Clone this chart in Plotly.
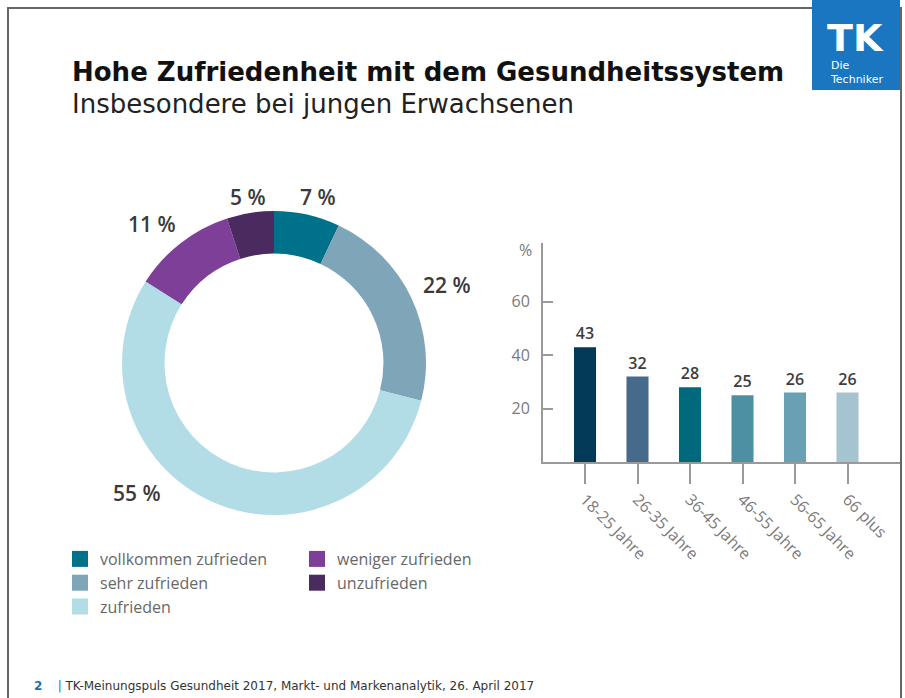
import plotly.graph_objects as go

# donut data (clockwise from 12 o'clock)
pie_labels = ['vollkommen zufrieden', 'sehr zufrieden', 'zufrieden', 'weniger zufrieden', 'unzufrieden']
pie_values = [7, 22, 55, 11, 5]
pie_colors = ['#00718a', '#7fa6b8', '#b3dde6', '#7d3f98', '#4b2b5f']

# bar data
age_groups = ['18-25 Jahre', '26-35 Jahre', '36-45 Jahre', '46-55 Jahre', '56-65 Jahre', '66 plus']
age_values = [43, 32, 28, 25, 26, 26]
bar_colors = ['#033a57', '#466a8a', '#006a7c', '#4e90a3', '#6aa0b3', '#a6c3d0']

W, H = 905, 698
def px(x): return x / W
def py(y): return 1 - y / H

fig = go.Figure()

fig.add_trace(go.Pie(
    labels=pie_labels,
    values=pie_values,
    hole=0.72,
    sort=False,
    direction='clockwise',
    rotation=0,
    marker=dict(colors=pie_colors, line=dict(width=0)),
    textinfo='none',
    showlegend=False,
    domain=dict(x=[px(122), px(426)], y=[py(515), py(211)]),
))

fig.add_trace(go.Bar(
    x=age_groups,
    y=age_values,
    marker=dict(color=bar_colors, line=dict(width=0)),
    text=age_values,
    textposition='outside',
    textfont=dict(family='Open Sans', size=16, color='#3d3d3d', weight=600),
    cliponaxis=False,
    showlegend=False,
))

# legend entries (two columns)
for i, (lab, col) in enumerate(zip(pie_labels, pie_colors)):
    fig.add_trace(go.Scatter(
        x=[None], y=[None], mode='markers', name=lab,
        marker=dict(symbol='square', size=16, color=col),
        legend='legend' if i < 3 else 'legend2',
    ))

legend_style = dict(
    yanchor='top', xanchor='left',
    font=dict(family='Open Sans', size=16, color='#686868'),
    bgcolor='rgba(0,0,0,0)', itemwidth=30, tracegroupgap=0,
)

fig.update_layout(
    width=W, height=H,
    margin=dict(l=0, r=0, t=0, b=0),
    paper_bgcolor='white',
    plot_bgcolor='white',
    bargap=0.58,
    legend=dict(x=px(60), y=py(542), **legend_style),
    legend2=dict(x=px(297), y=py(542), **legend_style),
    xaxis=dict(
        domain=[px(543), px(900)],
        range=[-0.8, 6.0],
        showline=True, linecolor='#9a9a9a', linewidth=2,
        ticks='outside', ticklen=20, tickwidth=2, tickcolor='#9a9a9a',
        tickangle=45,
        tickfont=dict(family='Open Sans', size=16, color='#7a7a7a'),
        showgrid=False, zeroline=False, fixedrange=True,
    ),
    yaxis=dict(
        domain=[py(462), py(243)],
        range=[0, 82],
        tickvals=[20, 40, 60],
        showline=True, linecolor='#9a9a9a', linewidth=2,
        ticks='inside', ticklen=10, tickwidth=2, tickcolor='#9a9a9a',
        ticklabelstandoff=8,
        tickfont=dict(family='Open Sans', size=16, color='#7a7a7a'),
        showgrid=False, zeroline=False,
    ),
)

annotations = [
    dict(x=px(70), y=py(72), text='<b>Hohe Zufriedenheit mit dem Gesundheitssystem</b>',
         font=dict(family='DejaVu Sans', size=26, color='#111111'), xanchor='left', yanchor='middle'),
    dict(x=px(70), y=py(104), text='Insbesondere bei jungen Erwachsenen',
         font=dict(family='DejaVu Sans', size=26, color='#222222'), xanchor='left', yanchor='middle'),
    dict(x=px(525), y=py(250), text='%', font=dict(family='Open Sans', size=16, color='#7a7a7a'),
         xanchor='center', yanchor='middle'),
    dict(x=px(32), y=py(686), text='<b><span style="color:#1a6fb5">2</span></b>    <span style="color:#1a6fb5">|</span> TK-Meinungspuls Gesundheit 2017, Markt- und Markenanalytik, 26. April 2017',
         font=dict(family='DejaVu Sans', size=12, color='#333333'), xanchor='left', yanchor='middle'),
    # logo
    dict(x=px(855), y=py(38), text='<b>TK</b>', font=dict(family='DejaVu Sans', size=38, color='white'),
         xanchor='center', yanchor='middle'),
    dict(x=px(828), y=py(72), text='Die<br>Techniker', align='left',
         font=dict(family='DejaVu Sans', size=11, color='white'), xanchor='left', yanchor='middle'),
]

# donut percentage labels
pct_pos = [(318, 197), (447, 285), (137, 493), (152, 224), (248, 197)]
for v, (lx, ly) in zip(pie_values, pct_pos):
    annotations.append(dict(x=px(lx), y=py(ly), text=f'{v} %', showarrow=False,
                            font=dict(family='Open Sans', size=21, color='#3a3a3a', weight=600),
                            xanchor='center', yanchor='middle'))

for a in annotations:
    a.setdefault('showarrow', False)
    a['xref'] = 'paper'
    a['yref'] = 'paper'
fig.update_layout(annotations=annotations)

fig.update_layout(shapes=[
    dict(type='rect', xref='paper', yref='paper', x0=px(8), x1=px(901), y0=-0.05, y1=py(8),
         line=dict(color='#666666', width=2), layer='below'),
    dict(type='rect', xref='paper', yref='paper', x0=px(812), x1=px(900), y0=py(90), y1=1.01,
         fillcolor='#1a76c0', line=dict(width=0)),
])

fig.write_html('out.html', config={'displayModeBar': False},
               post_script="document.body.style.margin='0';document.body.style.overflow='hidden';")
